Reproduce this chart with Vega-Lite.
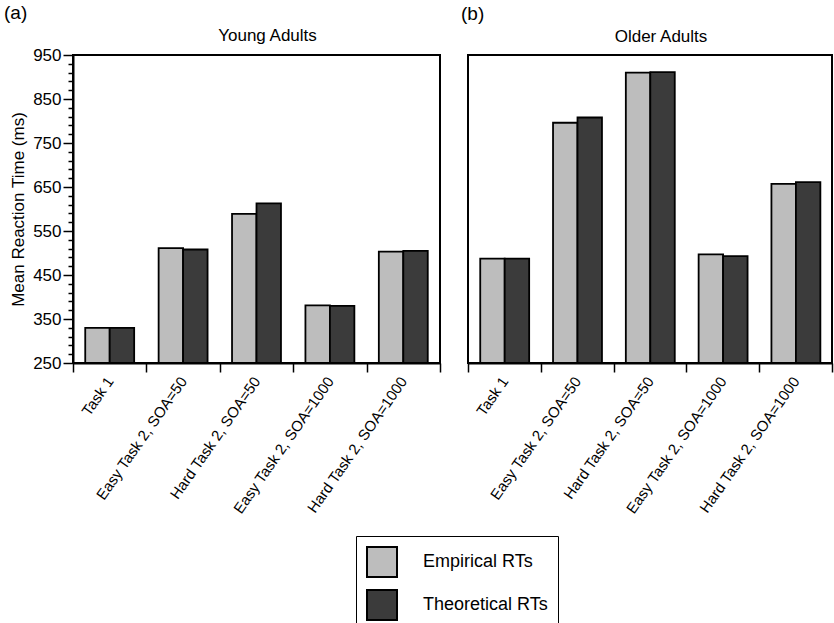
{
  "$schema": "https://vega.github.io/schema/vega-lite/v6.json",
  "padding": {"left": 4, "top": 4, "right": 1, "bottom": 0},
  "datasets": {
    "rt": [
      {"group": "Young Adults", "cond": "Task 1", "type": "Empirical RTs", "rt": 330},
      {"group": "Young Adults", "cond": "Task 1", "type": "Theoretical RTs", "rt": 330},
      {"group": "Young Adults", "cond": "Easy Task 2, SOA=50", "type": "Empirical RTs", "rt": 511},
      {"group": "Young Adults", "cond": "Easy Task 2, SOA=50", "type": "Theoretical RTs", "rt": 508},
      {"group": "Young Adults", "cond": "Hard Task 2, SOA=50", "type": "Empirical RTs", "rt": 589},
      {"group": "Young Adults", "cond": "Hard Task 2, SOA=50", "type": "Theoretical RTs", "rt": 613},
      {"group": "Young Adults", "cond": "Easy Task 2, SOA=1000", "type": "Empirical RTs", "rt": 381},
      {"group": "Young Adults", "cond": "Easy Task 2, SOA=1000", "type": "Theoretical RTs", "rt": 380},
      {"group": "Young Adults", "cond": "Hard Task 2, SOA=1000", "type": "Empirical RTs", "rt": 503},
      {"group": "Young Adults", "cond": "Hard Task 2, SOA=1000", "type": "Theoretical RTs", "rt": 505},
      {"group": "Older Adults", "cond": "Task 1", "type": "Empirical RTs", "rt": 487},
      {"group": "Older Adults", "cond": "Task 1", "type": "Theoretical RTs", "rt": 487},
      {"group": "Older Adults", "cond": "Easy Task 2, SOA=50", "type": "Empirical RTs", "rt": 796},
      {"group": "Older Adults", "cond": "Easy Task 2, SOA=50", "type": "Theoretical RTs", "rt": 808},
      {"group": "Older Adults", "cond": "Hard Task 2, SOA=50", "type": "Empirical RTs", "rt": 910},
      {"group": "Older Adults", "cond": "Hard Task 2, SOA=50", "type": "Theoretical RTs", "rt": 911},
      {"group": "Older Adults", "cond": "Easy Task 2, SOA=1000", "type": "Empirical RTs", "rt": 497},
      {"group": "Older Adults", "cond": "Easy Task 2, SOA=1000", "type": "Theoretical RTs", "rt": 493},
      {"group": "Older Adults", "cond": "Hard Task 2, SOA=1000", "type": "Empirical RTs", "rt": 657},
      {"group": "Older Adults", "cond": "Hard Task 2, SOA=1000", "type": "Theoretical RTs", "rt": 661}
    ]
  },
  "spacing": 19,
  "hconcat": [
    {
      "title": {"text": "(a)", "anchor": "start", "frame": "group", "fontSize": 19, "fontWeight": "normal", "offset": 3, "dx": -69},
      "vconcat": [
        {
          "title": {"text": "Young Adults", "fontSize": 17, "fontWeight": "normal", "offset": 1, "dx": 11},
          "width": 367,
          "height": 308,
          "data": {"name": "rt"},
          "transform": [{"filter": "datum.group === 'Young Adults'"}],
          "mark": {"type": "bar", "stroke": "black", "strokeWidth": 1.8},
          "encoding": {
            "x": {
              "field": "cond", "type": "nominal",
              "sort": ["Task 1", "Easy Task 2, SOA=50", "Hard Task 2, SOA=50", "Easy Task 2, SOA=1000", "Hard Task 2, SOA=1000"],
              "scale": {"paddingInner": 0, "paddingOuter": 0},
              "axis": {"title": null, "labelAngle": -55, "tickBand": "extent", "tickSize": 9, "labelFontSize": 15, "labelPadding": 6}
            },
            "xOffset": {"field": "type", "type": "nominal", "scale": {"paddingInner": 0, "paddingOuter": 0.5}},
            "y": {
              "field": "rt", "type": "quantitative",
              "scale": {"domain": [250, 950], "nice": false, "zero": false},
              "axis": {
                "title": "Mean Reaction Time (ms)",
                "titleFontSize": 17, "titleFontWeight": "normal", "titlePadding": 5,
                "values": [250,270,290,310,330,350,370,390,410,430,450,470,490,510,530,550,570,590,610,630,650,670,690,710,730,750,770,790,810,830,850,870,890,910,930,950],
                "labelExpr": "datum.value % 100 === 50 ? datum.label : ''",
                "tickSize": {"condition": {"test": "datum.value % 100 === 50", "value": 10}, "value": 5},
                "labelFontSize": 17, "labelPadding": 2
              }
            },
            "y2": {"datum": 250},
            "color": {
              "field": "type", "type": "nominal",
              "scale": {"domain": ["Empirical RTs", "Theoretical RTs"], "range": ["#bdbdbd", "#3b3b3b"]},
              "legend": {
                "title": null, "orient": "none", "legendX": 283, "legendY": 481, "direction": "vertical",
                "symbolType": "square", "symbolSize": 900, "symbolStrokeColor": "black", "symbolStrokeWidth": 2,
                "symbolOpacity": 1, "labelFontSize": 18, "labelOffset": 25, "rowPadding": 5,
                "strokeColor": "black", "padding": 10
              }
            }
          }
        }
      ]
    },
    {
      "title": {"text": "(b)", "anchor": "start", "frame": "group", "fontSize": 19, "fontWeight": "normal", "offset": 3, "dx": -7},
      "vconcat": [
        {
          "title": {"text": "Older Adults", "fontSize": 17, "fontWeight": "normal", "offset": 9, "dx": 11},
          "width": 364,
          "height": 308,
          "data": {"name": "rt"},
          "transform": [{"filter": "datum.group === 'Older Adults'"}],
          "mark": {"type": "bar", "stroke": "black", "strokeWidth": 1.8},
          "encoding": {
            "x": {
              "field": "cond", "type": "nominal",
              "sort": ["Task 1", "Easy Task 2, SOA=50", "Hard Task 2, SOA=50", "Easy Task 2, SOA=1000", "Hard Task 2, SOA=1000"],
              "scale": {"paddingInner": 0, "paddingOuter": 0},
              "axis": {"title": null, "labelAngle": -55, "tickBand": "extent", "tickSize": 9, "labelFontSize": 15, "labelPadding": 6}
            },
            "xOffset": {"field": "type", "type": "nominal", "scale": {"paddingInner": 0, "paddingOuter": 0.5}},
            "y": {
              "field": "rt", "type": "quantitative",
              "scale": {"domain": [250, 950], "nice": false, "zero": false},
              "axis": null
            },
            "y2": {"datum": 250},
            "color": {
              "field": "type", "type": "nominal",
              "scale": {"domain": ["Empirical RTs", "Theoretical RTs"], "range": ["#bdbdbd", "#3b3b3b"]},
              "legend": null
            }
          }
        }
      ]
    }
  ],
  "config": {
    "font": "Liberation Sans",
    "view": {"stroke": "black", "strokeWidth": 2},
    "axis": {
      "domainColor": "black", "domainWidth": 2, "tickColor": "black", "tickWidth": 1.5,
      "labelColor": "black", "titleColor": "black", "grid": false, "labelFont": "Liberation Sans", "titleFont": "Liberation Sans"
    },
    "title": {"color": "black", "font": "Liberation Sans"},
    "legend": {"labelColor": "black", "labelFont": "Liberation Sans"}
  }
}
